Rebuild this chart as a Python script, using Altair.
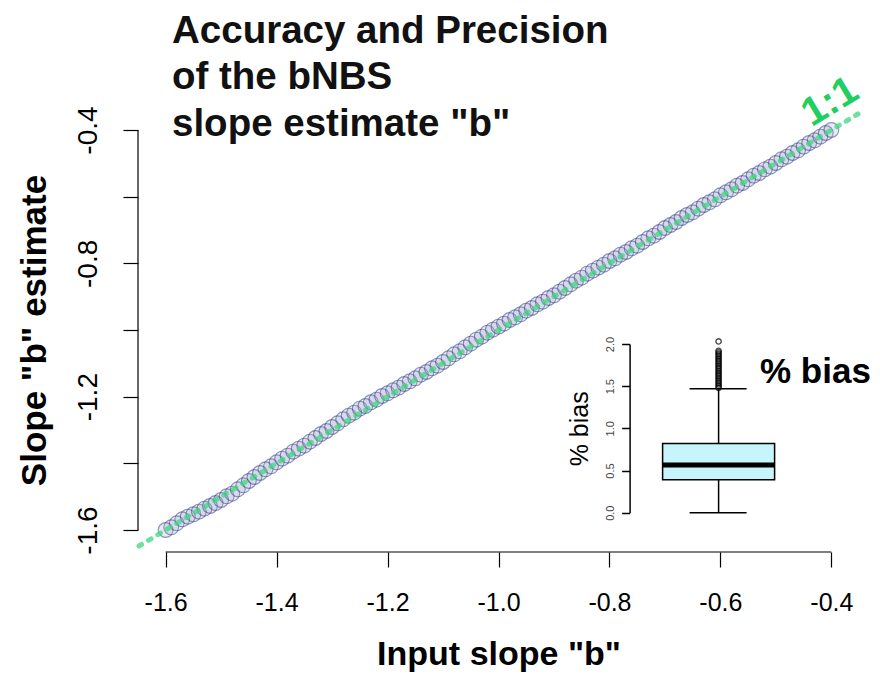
import altair as alt
import pandas as pd

# ---------------- data ----------------
input_b = [-1.60, -1.59, -1.58, -1.57, -1.56, -1.55, -1.54, -1.53, -1.52, -1.51,
           -1.50, -1.49, -1.48, -1.47, -1.46, -1.45, -1.44, -1.43, -1.42, -1.41,
           -1.40, -1.39, -1.38, -1.37, -1.36, -1.35, -1.34, -1.33, -1.32, -1.31,
           -1.30, -1.29, -1.28, -1.27, -1.26, -1.25, -1.24, -1.23, -1.22, -1.21,
           -1.20, -1.19, -1.18, -1.17, -1.16, -1.15, -1.14, -1.13, -1.12, -1.11,
           -1.10, -1.09, -1.08, -1.07, -1.06, -1.05, -1.04, -1.03, -1.02, -1.01,
           -1.00, -0.99, -0.98, -0.97, -0.96, -0.95, -0.94, -0.93, -0.92, -0.91,
           -0.90, -0.89, -0.88, -0.87, -0.86, -0.85, -0.84, -0.83, -0.82, -0.81,
           -0.80, -0.79, -0.78, -0.77, -0.76, -0.75, -0.74, -0.73, -0.72, -0.71,
           -0.70, -0.69, -0.68, -0.67, -0.66, -0.65, -0.64, -0.63, -0.62, -0.61,
           -0.60, -0.59, -0.58, -0.57, -0.56, -0.55, -0.54, -0.53, -0.52, -0.51,
           -0.50, -0.49, -0.48, -0.47, -0.46, -0.45, -0.44, -0.43, -0.42, -0.41,
           -0.40]
estimate_b = [-1.600, -1.592, -1.580, -1.568, -1.560, -1.553, -1.545, -1.536, -1.528, -1.519,
              -1.510, -1.499, -1.491, -1.478, -1.466, -1.453, -1.441, -1.429, -1.418, -1.409,
              -1.397, -1.386, -1.377, -1.365, -1.356, -1.347, -1.335, -1.324, -1.312, -1.303,
              -1.291, -1.280, -1.268, -1.257, -1.248, -1.236, -1.228, -1.217, -1.209, -1.198,
              -1.190, -1.181, -1.173, -1.162, -1.154, -1.145, -1.134, -1.126, -1.115, -1.107,
              -1.096, -1.085, -1.073, -1.064, -1.052, -1.041, -1.029, -1.020, -1.008, -0.999,
              -0.990, -0.981, -0.970, -0.962, -0.953, -0.942, -0.934, -0.923, -0.915, -0.904,
              -0.896, -0.885, -0.874, -0.863, -0.852, -0.843, -0.831, -0.822, -0.813, -0.804,
              -0.793, -0.785, -0.774, -0.766, -0.755, -0.747, -0.736, -0.725, -0.717, -0.706,
              -0.694, -0.685, -0.676, -0.664, -0.655, -0.647, -0.636, -0.625, -0.617, -0.608,
              -0.596, -0.587, -0.578, -0.567, -0.559, -0.548, -0.537, -0.529, -0.518, -0.510,
              -0.499, -0.488, -0.480, -0.469, -0.461, -0.450, -0.439, -0.431, -0.420, -0.409,
              -0.400]

axis_ticks = [-1.6, -1.4, -1.2, -1.0, -0.8, -0.6, -0.4]
plot_limits = [-1.648, -0.352]          # R's 4% expanded range

title_lines = ["Accuracy and Precision", "of the bNBS", 'slope estimate "b"']
one_to_one_label = "1:1"

# inset box plot of % bias
bias_q1, bias_median, bias_q3 = 0.39, 0.565, 0.82
bias_whisker_low, bias_whisker_high = 0.0, 1.47
bias_outliers = [1.48, 1.50, 1.52, 1.54, 1.56, 1.58, 1.60, 1.62, 1.64, 1.66, 1.68,
                 1.70, 1.72, 1.74, 1.76, 1.78, 1.80, 1.82, 1.84, 1.86, 1.88, 1.90,
                 1.92, 2.03]
bias_ticks = [0.0, 0.5, 1.0, 1.5, 2.0]
bias_limits = [0.0, 2.0]
bias_label = "% bias"

# ---------------- layout / style ----------------
FONT = "Liberation Sans"
W, H = 719, 432
INSET_Y_RANGE = [398.7, 230.0]
BOX_X = (523.6, 635.6)
CAP_X = (550.6, 607.6)
BOX_CX = 579.6
INSET_AXIS_X = 490.6

minus_expr = "(datum.value < 0 ? '-' : '') + format(abs(datum.value), '.1f')"

xs = alt.Scale(domain=plot_limits, nice=False, zero=False)
ys = alt.Scale(domain=plot_limits, nice=False, zero=False)

x_axis = alt.Axis(values=axis_ticks, labelExpr=minus_expr, domain=False, grid=False,
                  tickSize=15, tickColor="black", tickWidth=1.2, offset=6,
                  labelFontSize=25, labelFont=FONT, labelColor="black", labelPadding=23,
                  labelOverlap=False, labelFlush=False,
                  title='Input slope "b"', titleFont=FONT, titleFontSize=34,
                  titleFontWeight="bold", titleColor="black", titlePadding=22)
y_axis = alt.Axis(values=axis_ticks,
                  labelExpr="abs(round(datum.value*10)) % 4 == 0 ? " + minus_expr + " : ''",
                  domain=False, grid=False, tickSize=15, tickColor="black", tickWidth=1.2,
                  offset=1, labelFontSize=28, labelFont=FONT, labelColor="black",
                  labelAngle=270, labelAlign="center", labelBaseline="bottom",
                  labelPadding=21, labelOverlap=False, labelFlush=False,
                  title='Slope "b" estimate', titleFont=FONT, titleFontSize=35,
                  titleFontWeight="bold", titleColor="black", titlePadding=22)

pts_df = pd.DataFrame({"input": input_b, "est": estimate_b})
points = alt.Chart(pts_df).mark_point(
    shape="circle", size=220, filled=False, stroke="#27327f", strokeOpacity=0.5,
    strokeWidth=1.1, fill="#9096c4", fillOpacity=0.2
).encode(x=alt.X("input:Q", scale=xs, axis=x_axis),
         y=alt.Y("est:Q", scale=ys, axis=y_axis))

line_df = pd.DataFrame({"input": plot_limits, "est": plot_limits})
one_line = alt.Chart(line_df).mark_line(
    color="#3dd67f", strokeWidth=5, strokeDash=[3, 8], strokeCap="round", opacity=0.75
).encode(x="input:Q", y="est:Q")

ax_df = pd.DataFrame({"lo": [axis_ticks[0]], "hi": [axis_ticks[-1]]})
x_line = alt.Chart(ax_df).mark_rule(color="black", strokeWidth=1.2).encode(
    x="lo:Q", x2="hi:Q", y=alt.value(H + 6))
y_line = alt.Chart(ax_df).mark_rule(color="black", strokeWidth=1.2).encode(
    y="lo:Q", y2="hi:Q", x=alt.value(-1))

one_df = pd.DataFrame({"t": [one_to_one_label]})
one_text = alt.Chart(one_df).mark_text(
    angle=329, fontSize=40, fontWeight="bold", font=FONT, color="#1fcf5f"
).encode(x=alt.value(691), y=alt.value(-12), text="t:N")

title_df = pd.DataFrame({"k": [0]})
title_text = alt.Chart(title_df).mark_text(
    text=title_lines, align="left", baseline="alphabetic", fontSize=38.5,
    fontWeight="bold", font=FONT, lineHeight=46.5, color="#111111"
).encode(x=alt.value(33), y=alt.value(-71.5))

bias_df = pd.DataFrame({"t": [bias_label]})
bias_text = alt.Chart(bias_df).mark_text(
    align="left", baseline="alphabetic", fontSize=35, fontWeight="bold", font=FONT,
    color="black"
).encode(x=alt.value(621), y=alt.value(269), text="t:N")

main = alt.layer(points, one_line, x_line, y_line, one_text, title_text, bias_text)

# ---- inset ----
ins_scale = alt.Scale(domain=bias_limits, range=INSET_Y_RANGE, nice=False, zero=False)
ins_axis = alt.Axis(values=bias_ticks, format=".1f", orient="left", offset=-INSET_AXIS_X,
                    domain=True, domainColor="black", domainWidth=1.5, grid=False,
                    tickSize=8, tickColor="black", tickWidth=1.5,
                    labelFontSize=11, labelFont=FONT, labelColor="#444444",
                    labelAngle=270, labelAlign="center", labelBaseline="middle",
                    labelPadding=11, labelOverlap=False, labelFlush=False,
                    title=bias_label, titleFont=FONT, titleFontSize=25,
                    titleFontWeight="normal", titleColor="black", titlePadding=12)

box_df = pd.DataFrame({"q1": [bias_q1], "q3": [bias_q3], "med": [bias_median],
                       "wlo": [bias_whisker_low], "whi": [bias_whisker_high]})
box = alt.Chart(box_df).mark_rect(fill="#c6f5fb", stroke="black", strokeWidth=1.5).encode(
    y=alt.Y("q1:Q", scale=ins_scale, axis=ins_axis), y2="q3:Q",
    x=alt.value(BOX_X[0]), x2=alt.value(BOX_X[1]))
median = alt.Chart(box_df).mark_rule(color="black", strokeWidth=5).encode(
    y="med:Q", x=alt.value(BOX_X[0]), x2=alt.value(BOX_X[1]))
whisk_lo = alt.Chart(box_df).mark_rule(color="black", strokeWidth=1.5).encode(
    y="wlo:Q", y2="q1:Q", x=alt.value(BOX_CX))
whisk_hi = alt.Chart(box_df).mark_rule(color="black", strokeWidth=1.5).encode(
    y="q3:Q", y2="whi:Q", x=alt.value(BOX_CX))
cap_lo = alt.Chart(box_df).mark_rule(color="black", strokeWidth=1.5).encode(
    y="wlo:Q", x=alt.value(CAP_X[0]), x2=alt.value(CAP_X[1]))
cap_hi = alt.Chart(box_df).mark_rule(color="black", strokeWidth=1.5).encode(
    y="whi:Q", x=alt.value(CAP_X[0]), x2=alt.value(CAP_X[1]))
out_df = pd.DataFrame({"v": bias_outliers})
outl = alt.Chart(out_df).mark_point(shape="circle", size=28, filled=False, color="black",
                                    strokeWidth=1.4).encode(
    y="v:Q", x=alt.value(BOX_CX))

inset = alt.layer(box, whisk_lo, whisk_hi, cap_lo, cap_hi, median, outl)

chart = alt.layer(main, inset).resolve_scale(y="independent").properties(
    width=W, height=H,
    padding={"left": 131, "top": 106, "right": 14, "bottom": 127},
    autosize=alt.AutoSizeParams(type="none"),
).configure_view(stroke=None)

chart.save("out.html", embed_options={"renderer": "svg", "actions": False})
